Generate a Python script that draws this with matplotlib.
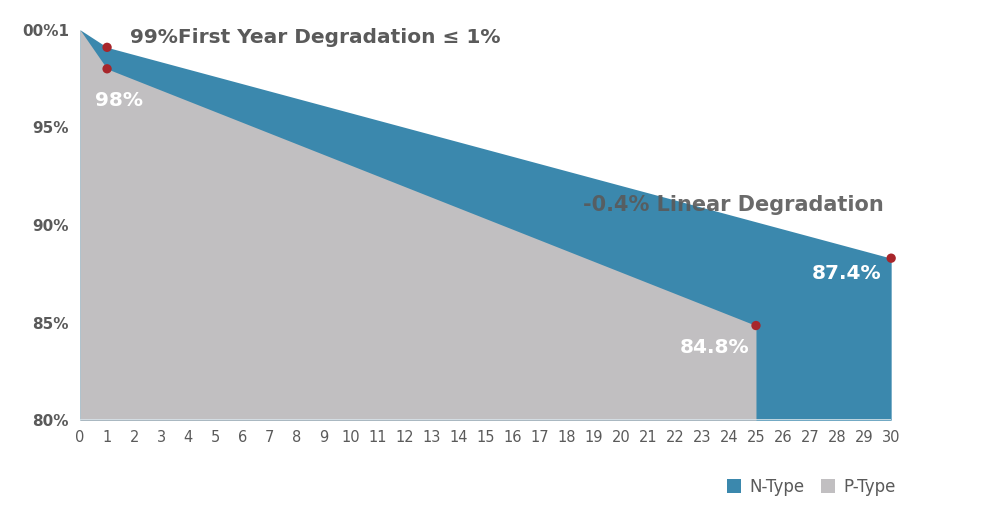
import matplotlib
matplotlib.use("Agg")
import matplotlib.pyplot as plt
from matplotlib.patches import Patch

years_n = [0, 1, 30]
n_type = [100, 99.1, 88.3]
years_p = [0, 1, 25]
p_type = [100, 98.0, 84.85]
x_ticks = list(range(0, 31))
y_ticks = [80, 85, 90, 95, 100]
y_tick_labels = ["80%", "85%", "90%", "95%", "00%1"]

BLUE = "#3b88ad"
GREY = "#c1bfc1"
RED = "#a8262b"
TXT = "#5a5a5a"
NARROW = ["Liberation Sans Narrow", "DejaVu Sans"]

fig = plt.figure(figsize=(9.82, 5.22), dpi=100)
ax = fig.add_axes([0.0815, 0.195, 0.826, 0.748])

ax.fill_between(years_n, n_type, 80, color=BLUE, linewidth=0, zorder=1)
ax.fill_between(years_p, p_type, 80, color=GREY, linewidth=0, zorder=2)

ax.scatter([1, 1, 30, 25], [n_type[1], p_type[1], n_type[2], p_type[2]],
           s=45, color=RED, zorder=5, clip_on=False, edgecolors="none")

ax.set_xlim(0, 30)
ax.set_ylim(80, 100)
ax.set_xticks(x_ticks)
ax.set_xticklabels([str(v) for v in x_ticks], fontsize=10.5, color=TXT,
                   family=NARROW)
ax.set_yticks(y_ticks)
ax.set_yticklabels(y_tick_labels, fontsize=11, color=TXT, fontweight="bold")
ax.tick_params(axis="both", length=0)
ax.tick_params(axis="x", pad=7)
ax.tick_params(axis="y", pad=8)
for s in ax.spines.values():
    s.set_visible(False)
ax.axhline(80, color="#d8e4ea", linewidth=1.2, zorder=3)

ax.text(1.85, 99.6, "99%First Year Degradation \u2264 1%", fontsize=14.5,
        fontweight="bold", color=TXT, va="center", ha="left", zorder=6)
ax.text(0.55, 96.4, "98%", fontsize=14.5, fontweight="bold", color="white",
        va="center", ha="left", zorder=6)
ax.text(18.6, 91.0, "-0.4% Linear Degradation", fontsize=15,
        fontweight="bold", color=TXT, alpha=0.9, va="center", ha="left", zorder=6)
ax.text(29.65, 87.5, "87.4%", fontsize=14.5, fontweight="bold", color="white",
        va="center", ha="right", zorder=6)
ax.text(24.75, 83.7, "84.8%", fontsize=14.5, fontweight="bold", color="white",
        va="center", ha="right", zorder=6)

handles = [Patch(facecolor=BLUE, edgecolor="none", label="N-Type"),
           Patch(facecolor=GREY, edgecolor="none", label="P-Type")]
leg = fig.legend(handles=handles, loc="center left", bbox_to_anchor=(0.725, 0.067),
                 ncol=2, frameon=False, handlelength=0.85,
                 handleheight=0.95, handletextpad=0.5, columnspacing=1.0,
                 prop={"family": NARROW, "size": 12})
for t in leg.get_texts():
    t.set_color(TXT)

fig.savefig("out.png", dpi=100, facecolor="white")
